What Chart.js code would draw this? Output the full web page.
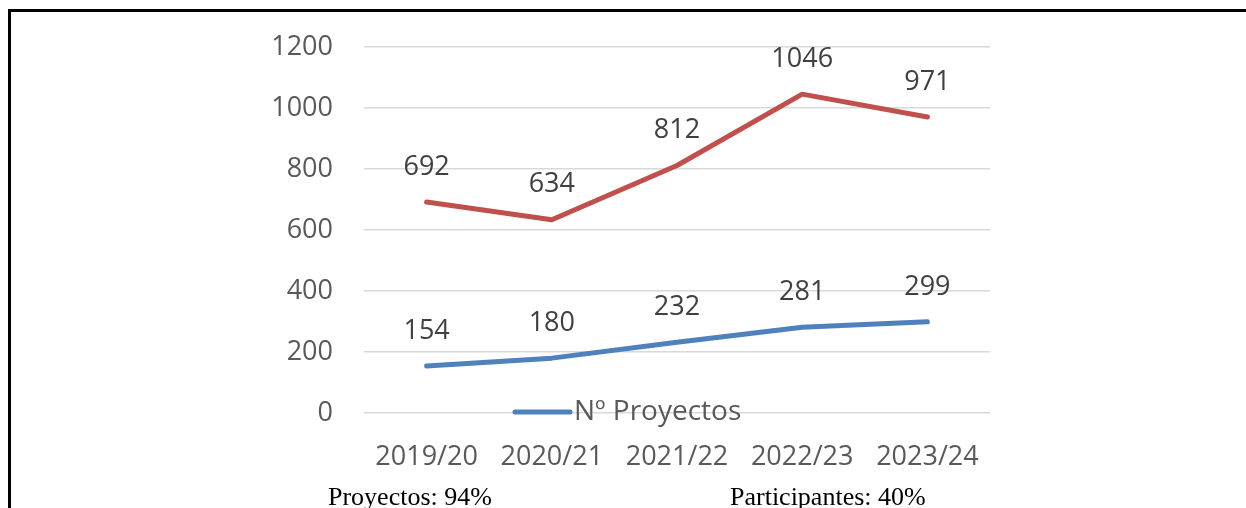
<!DOCTYPE html>
<html>
<head>
<meta charset="utf-8">
<style>
  html, body { margin: 0; padding: 0; background: #fff; }
  #wrap { position: relative; width: 1246px; height: 508px; overflow: hidden; }
  #frame { position: absolute; left: 8px; top: 9px; right: -10px; bottom: -10px;
           border-left: 3px solid #000; border-top: 3px solid #000; }
  canvas { position: absolute; left: 0; top: 0; }
</style>
<script src="https://cdn.jsdelivr.net/npm/chart.js@4/dist/chart.umd.min.js"></script>
</head>
<body>
<div id="wrap">
  <div id="frame"></div>
  <canvas id="chart" width="1246" height="508"></canvas>
</div>
<script>
var YEARS = ["2019/20", "2020/21", "2021/22", "2022/23", "2023/24"];
var PROYECTOS = [154, 180, 232, 281, 299];
var PARTICIPANTES = [692, 634, 812, 1046, 971];
var Y_MIN = 0;
var Y_MAX = 1200;
var Y_STEP = 200;
var FOOTNOTES = ["Proyectos: 94%", "Participantes: 40%"];

var BLUE = "#4F81BD";
var RED = "#C0504D";
var TICK_FONT = { family: "'Open Sans', 'Noto Sans', sans-serif", size: 27 };

// values above each point + the single legend entry sitting on the axis line
var extras = {
  id: "extras",
  afterDatasetsDraw: function (chart) {
    var ctx = chart.ctx;
    ctx.save();
    ctx.font = "27px 'Open Sans', 'Noto Sans', sans-serif";
    ctx.fillStyle = "#404040";
    ctx.textAlign = "center";
    ctx.textBaseline = "middle";
    chart.data.datasets.forEach(function (ds, i) {
      chart.getDatasetMeta(i).data.forEach(function (pt, j) {
        ctx.fillText(String(ds.data[j]), pt.x, pt.y - 35);
      });
    });

    // legend (only the blue series shows)
    var area = chart.chartArea;
    var lx = area.left + 151;
    var ly = area.bottom - 1;
    ctx.strokeStyle = BLUE;
    ctx.lineWidth = 5;
    ctx.lineCap = "round";
    ctx.beginPath();
    ctx.moveTo(lx, ly);
    ctx.lineTo(lx + 55, ly);
    ctx.stroke();
    ctx.font = "28px 'Open Sans', 'Noto Sans', sans-serif";
    ctx.fillStyle = "#595959";
    ctx.textAlign = "left";
    ctx.fillText(chart.data.datasets[0].label, lx + 59, ly);

    // footnotes under the chart
    ctx.font = "26px 'Liberation Serif', 'Times New Roman', serif";
    ctx.fillStyle = "#000";
    ctx.textBaseline = "alphabetic";
    ctx.fillText(FOOTNOTES[0], 328, 505);
    ctx.fillText(FOOTNOTES[1], 730, 505);
    ctx.restore();
  },
};

new Chart(document.getElementById("chart"), {
  type: "line",
  data: {
    labels: YEARS,
    datasets: [
      {
        label: "Nº Proyectos",
        data: PROYECTOS,
        borderColor: BLUE,
        borderWidth: 5,
        borderCapStyle: "round",
        borderJoinStyle: "round",
        pointRadius: 0,
        fill: false,
        tension: 0,
      },
      {
        label: "Nº Participantes",
        data: PARTICIPANTES,
        borderColor: RED,
        borderWidth: 5,
        borderCapStyle: "round",
        borderJoinStyle: "round",
        pointRadius: 0,
        fill: false,
        tension: 0,
      },
    ],
  },
  options: {
    responsive: false,
    animation: false,
    layout: { padding: { top: 46, right: 256, left: 0, bottom: 0 } },
    plugins: { legend: { display: false }, tooltip: { enabled: false } },
    scales: {
      x: {
        offset: true,
        grid: { display: false, drawTicks: false },
        border: { display: false },
        ticks: { color: "#595959", font: TICK_FONT, padding: 28, maxRotation: 0 },
        afterFit: function (s) { s.height = 95; },
      },
      y: {
        min: Y_MIN,
        max: Y_MAX,
        ticks: {
          stepSize: Y_STEP,
          color: "#595959",
          font: TICK_FONT,
          padding: 31,
          callback: function (v) { return String(v); },
        },
        grid: { color: "#d9d9d9", lineWidth: 1.5, drawTicks: false },
        border: { display: false },
        afterFit: function (s) { s.width = 364; },
      },
    },
  },
  plugins: [extras],
});
</script>
</body>
</html>
